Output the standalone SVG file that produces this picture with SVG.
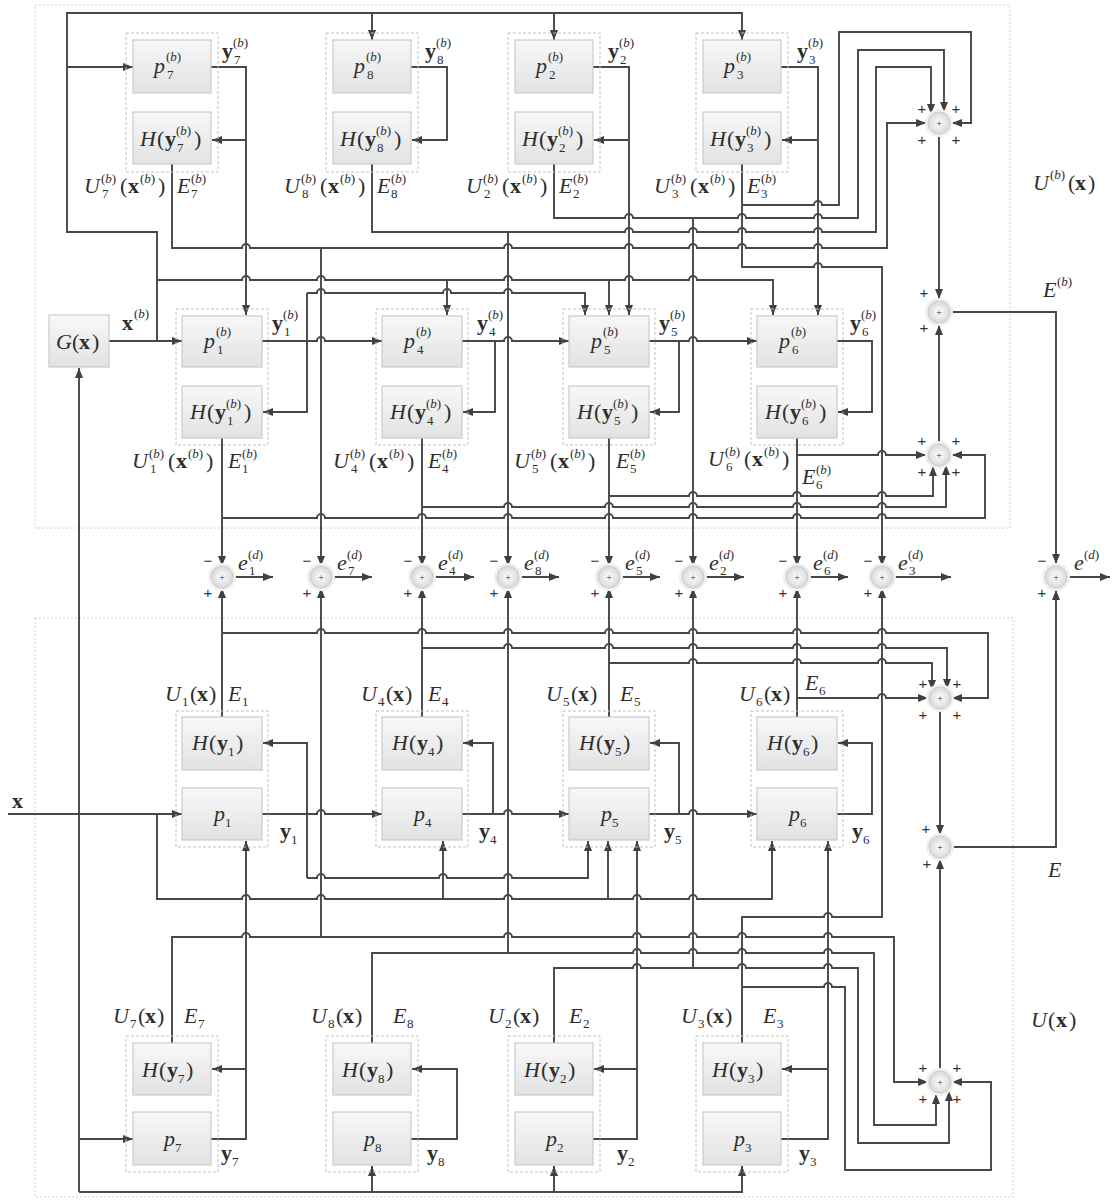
<svg xmlns="http://www.w3.org/2000/svg" width="1113" height="1204" viewBox="0 0 1113 1204">
<defs>
<marker id="ah" viewBox="0 0 10 8" refX="10" refY="4" markerWidth="11" markerHeight="8" markerUnits="userSpaceOnUse" orient="auto"><path d="M0,0 L10,4 L0,8 z" fill="#404040"/></marker>
<linearGradient id="bg" x1="0" y1="0" x2="0" y2="1"><stop offset="0" stop-color="#f8f8f8"/><stop offset="1" stop-color="#e2e2e2"/></linearGradient>
<radialGradient id="sg"><stop offset="0" stop-color="#ffffff"/><stop offset="1" stop-color="#d8d8d8"/></radialGradient>
<g id="sm"><circle r="14" fill="#f0f0f0"/><circle r="11" fill="url(#sg)" stroke="#cccccc" stroke-width="1"/><text y="3.5" font-size="10" text-anchor="middle" font-family="Liberation Sans,sans-serif" fill="#333">+</text></g>
</defs>
<style>
.ln{fill:none;stroke:#474747;stroke-width:1.9;marker-end:url(#ah)}
.box{fill:url(#bg);stroke:#cbcbcb;stroke-width:1.2}
.grp{fill:none;stroke:#c2c2c2;stroke-width:1;stroke-dasharray:3 2}
.frame{fill:none;stroke:#d2d2d2;stroke-width:1;stroke-dasharray:2 2}
text{font-family:"Liberation Serif","Times New Roman",serif;fill:#2e2e2e}
.m{font-size:22px}
.i{font-style:italic}
.b{font-weight:bold}
.s{font-size:13px}
.pm{font-size:15px;text-anchor:middle;font-family:"Liberation Sans",sans-serif;fill:#333}
</style>
<rect width="1113" height="1204" fill="#ffffff"/>
<rect class="frame" x="35" y="5" width="975" height="523"/>
<rect class="frame" x="35" y="618" width="978" height="579"/>

<g id="connectors">
<path class="ln" d="M109,341 H182"/>
<path class="ln" d="M157,341 V232 H67 V13 H742 V40"/>
<path class="ln" d="M372,13 V40"/>
<path class="ln" d="M554,13 V40"/>
<path class="ln" d="M67,67 H133"/>
<path class="ln" d="M157,280 H242 A4 4 0 0 1 250,280 H317 A4 4 0 0 1 325,280 H504 A4 4 0 0 1 512,280 H625 A4 4 0 0 1 633,280 H689 A4 4 0 0 1 697,280 H773 V315"/>
<path class="ln" d="M447,280 V315"/>
<path class="ln" d="M609,280 V315"/>
<path class="ln" d="M211,67 H246 V315"/>
<path class="ln" d="M246,140 H212"/>
<path class="ln" d="M411,67 H447 V140 H412"/>
<path class="ln" d="M593,67 H629 V315"/>
<path class="ln" d="M629,140 H594"/>
<path class="ln" d="M781,67 H818 V315"/>
<path class="ln" d="M818,140 H782"/>
<path class="ln" d="M262,341 H317 A4 4 0 0 1 325,341 H382"/>
<path class="ln" d="M307,293 V412 H263"/>
<path class="ln" d="M307,293 H317 A4 4 0 0 1 325,293 H443 A4 4 0 0 1 451,293 H504 A4 4 0 0 1 512,293 H585 V315"/>
<path class="ln" d="M462,341 H504 A4 4 0 0 1 512,341 H569"/>
<path class="ln" d="M495,341 V412 H463"/>
<path class="ln" d="M649,341 H689 A4 4 0 0 1 697,341 H757"/>
<path class="ln" d="M679,341 V412 H650"/>
<path class="ln" d="M837,341 H872 V412 H838"/>
<path class="ln" d="M172,164 V248 H242 A4 4 0 0 1 250,248 H504 A4 4 0 0 1 512,248 H625 A4 4 0 0 1 633,248 H689 A4 4 0 0 1 697,248 H738 A4 4 0 0 1 746,248 H814 A4 4 0 0 1 822,248 H887 V123 H926"/>
<path class="ln" d="M321,248 V566"/>
<path class="ln" d="M372,164 V232 H625 A4 4 0 0 1 633,232 H689 A4 4 0 0 1 697,232 H738 A4 4 0 0 1 746,232 H814 A4 4 0 0 1 822,232 H876 V67 H931 V114"/>
<path class="ln" d="M508,232 V566"/>
<path class="ln" d="M554,164 V218 H625 A4 4 0 0 1 633,218 H738 A4 4 0 0 1 746,218 H814 A4 4 0 0 1 822,218 H858 V50 H944 V112"/>
<path class="ln" d="M693,218 V566"/>
<path class="ln" d="M742,164 V267 H814 A4 4 0 0 1 822,267 H882 V566"/>
<path class="ln" d="M742,205 H814 A4 4 0 0 1 822,205 H839 V32 H971 V123 H952"/>
<path class="ln" d="M222,438 V566"/>
<path class="ln" d="M222,518 H317 A4 4 0 0 1 325,518 H418 A4 4 0 0 1 426,518 H504 A4 4 0 0 1 512,518 H605 A4 4 0 0 1 613,518 H689 A4 4 0 0 1 697,518 H793 A4 4 0 0 1 801,518 H878 A4 4 0 0 1 886,518 H985 V455 H952"/>
<path class="ln" d="M422,438 V566"/>
<path class="ln" d="M422,507 H504 A4 4 0 0 1 512,507 H605 A4 4 0 0 1 613,507 H689 A4 4 0 0 1 697,507 H793 A4 4 0 0 1 801,507 H878 A4 4 0 0 1 886,507 H946 V465"/>
<path class="ln" d="M609,438 V566"/>
<path class="ln" d="M609,496 H689 A4 4 0 0 1 697,496 H793 A4 4 0 0 1 801,496 H878 A4 4 0 0 1 886,496 H933 V466"/>
<path class="ln" d="M797,438 V566"/>
<path class="ln" d="M797,455 H878 A4 4 0 0 1 886,455 H926"/>
<path class="ln" d="M939,134 V299"/>
<path class="ln" d="M939,444 V325"/>
<path class="ln" d="M950,312 H1056 V564"/>
<path class="ln" d="M233,577 H273"/>
<path class="ln" d="M332,577 H372"/>
<path class="ln" d="M433,577 H474"/>
<path class="ln" d="M519,577 H559"/>
<path class="ln" d="M620,577 H660"/>
<path class="ln" d="M704,577 H744"/>
<path class="ln" d="M808,577 H848"/>
<path class="ln" d="M893,577 H951"/>
<path class="ln" d="M1067,577 H1110"/>
<path class="ln" d="M8,814 H182"/>
<path class="ln" d="M157,814 V899 H242 A4 4 0 0 1 250,899 H317 A4 4 0 0 1 325,899 H504 A4 4 0 0 1 512,899 H633 A4 4 0 0 1 641,899 H689 A4 4 0 0 1 697,899 H772 V841"/>
<path class="ln" d="M443,899 V841"/>
<path class="ln" d="M608,899 V841"/>
<path class="ln" d="M79,1192 V368"/>
<path class="ln" d="M79,1192 H742 V1166"/>
<path class="ln" d="M372,1192 V1166"/>
<path class="ln" d="M554,1192 V1166"/>
<path class="ln" d="M79,1139 H133"/>
<path class="ln" d="M262,814 H317 A4 4 0 0 1 325,814 H382"/>
<path class="ln" d="M307,878 V743 H263"/>
<path class="ln" d="M307,878 H317 A4 4 0 0 1 325,878 H439 A4 4 0 0 1 447,878 H504 A4 4 0 0 1 512,878 H588 V841"/>
<path class="ln" d="M462,814 H504 A4 4 0 0 1 512,814 H569"/>
<path class="ln" d="M493,814 V743 H463"/>
<path class="ln" d="M649,814 H689 A4 4 0 0 1 697,814 H757"/>
<path class="ln" d="M679,814 V743 H650"/>
<path class="ln" d="M837,814 H872 V743 H838"/>
<path class="ln" d="M211,1139 H246 V841"/>
<path class="ln" d="M246,1069 H212"/>
<path class="ln" d="M411,1139 H457 V1069 H412"/>
<path class="ln" d="M593,1139 H637 V841"/>
<path class="ln" d="M637,1069 H594"/>
<path class="ln" d="M781,1139 H828 V841"/>
<path class="ln" d="M828,1069 H782"/>
<path class="ln" d="M222,717 V588"/>
<path class="ln" d="M222,633 H317 A4 4 0 0 1 325,633 H418 A4 4 0 0 1 426,633 H504 A4 4 0 0 1 512,633 H605 A4 4 0 0 1 613,633 H689 A4 4 0 0 1 697,633 H793 A4 4 0 0 1 801,633 H878 A4 4 0 0 1 886,633 H988 V698 H952"/>
<path class="ln" d="M422,717 V588"/>
<path class="ln" d="M422,648 H504 A4 4 0 0 1 512,648 H605 A4 4 0 0 1 613,648 H689 A4 4 0 0 1 697,648 H793 A4 4 0 0 1 801,648 H878 A4 4 0 0 1 886,648 H947 V689"/>
<path class="ln" d="M609,717 V588"/>
<path class="ln" d="M609,663 H689 A4 4 0 0 1 697,663 H793 A4 4 0 0 1 801,663 H878 A4 4 0 0 1 886,663 H932 V690"/>
<path class="ln" d="M797,717 V588"/>
<path class="ln" d="M797,698 H878 A4 4 0 0 1 886,698 H928"/>
<path class="ln" d="M172,1043 V937 H242 A4 4 0 0 1 250,937 H504 A4 4 0 0 1 512,937 H633 A4 4 0 0 1 641,937 H689 A4 4 0 0 1 697,937 H738 A4 4 0 0 1 746,937 H824 A4 4 0 0 1 832,937 H894 V1082 H928"/>
<path class="ln" d="M321,937 V588"/>
<path class="ln" d="M372,1043 V953 H633 A4 4 0 0 1 641,953 H689 A4 4 0 0 1 697,953 H738 A4 4 0 0 1 746,953 H824 A4 4 0 0 1 832,953 H874 V1125 H936 V1094"/>
<path class="ln" d="M508,953 V588"/>
<path class="ln" d="M554,1043 V968 H633 A4 4 0 0 1 641,968 H738 A4 4 0 0 1 746,968 H824 A4 4 0 0 1 832,968 H858 V1143 H949 V1091"/>
<path class="ln" d="M693,968 V588"/>
<path class="ln" d="M742,1043 V917 H824 A4 4 0 0 1 832,917 H882 V588"/>
<path class="ln" d="M742,987 H824 A4 4 0 0 1 832,987 H845 V1170 H991 V1082 H952"/>
<path class="ln" d="M940,711 V835"/>
<path class="ln" d="M940,1069 V859"/>
<path class="ln" d="M951,847 H1056 V590"/>
</g>

<g id="G">
<rect class="box" x="49" y="315" width="60" height="52"/>
<text class="m"><tspan class="i" x="56" y="349">G</tspan><tspan x="72" y="349">(</tspan><tspan class="b" x="79" y="349">x</tspan><tspan x="92" y="349">)</tspan></text>
</g>

<!-- top row A -->
<g id="blk7b">
<rect class="grp" x="126" y="33" width="92" height="139"/>
<g id="p7b"><rect class="box" x="133" y="40" width="78" height="53"/>
<text class="m"><tspan class="i" x="154" y="73">p</tspan><tspan class="s" x="166" y="61">(<tspan class="i">b</tspan>)</tspan><tspan class="s" x="167" y="79">7</tspan></text></g>
<g id="H7b"><rect class="box" x="133" y="112" width="78" height="52"/>
<text class="m"><tspan class="i" x="140" y="146">H</tspan><tspan x="157" y="146">(</tspan><tspan class="b" x="165" y="146">y</tspan><tspan class="s" x="176" y="135">(<tspan class="i">b</tspan>)</tspan><tspan class="s" x="177" y="152">7</tspan><tspan x="194" y="146">)</tspan></text></g>
<text class="m"><tspan class="i" x="84" y="193">U</tspan><tspan class="s" x="101" y="183">(<tspan class="i">b</tspan>)</tspan><tspan class="s" x="102" y="198">7</tspan><tspan x="120" y="193">(</tspan><tspan class="b" x="128" y="193">x</tspan><tspan class="s" x="140" y="183">(<tspan class="i">b</tspan>)</tspan><tspan x="158" y="193">)</tspan></text>
<text class="m"><tspan class="i" x="177" y="193">E</tspan><tspan class="s" x="191" y="183">(<tspan class="i">b</tspan>)</tspan><tspan class="s" x="191" y="198">7</tspan></text>
</g>
<g id="blk8b">
<rect class="grp" x="326" y="33" width="92" height="139"/>
<g id="p8b"><rect class="box" x="333" y="40" width="78" height="53"/>
<text class="m"><tspan class="i" x="354" y="73">p</tspan><tspan class="s" x="366" y="61">(<tspan class="i">b</tspan>)</tspan><tspan class="s" x="367" y="79">8</tspan></text></g>
<g id="H8b"><rect class="box" x="333" y="112" width="78" height="52"/>
<text class="m"><tspan class="i" x="340" y="146">H</tspan><tspan x="357" y="146">(</tspan><tspan class="b" x="365" y="146">y</tspan><tspan class="s" x="376" y="135">(<tspan class="i">b</tspan>)</tspan><tspan class="s" x="377" y="152">8</tspan><tspan x="394" y="146">)</tspan></text></g>
<text class="m"><tspan class="i" x="284" y="193">U</tspan><tspan class="s" x="301" y="183">(<tspan class="i">b</tspan>)</tspan><tspan class="s" x="302" y="198">8</tspan><tspan x="320" y="193">(</tspan><tspan class="b" x="328" y="193">x</tspan><tspan class="s" x="340" y="183">(<tspan class="i">b</tspan>)</tspan><tspan x="358" y="193">)</tspan></text>
<text class="m"><tspan class="i" x="377" y="193">E</tspan><tspan class="s" x="391" y="183">(<tspan class="i">b</tspan>)</tspan><tspan class="s" x="391" y="198">8</tspan></text>
</g>
<g id="blk2b">
<rect class="grp" x="508" y="33" width="92" height="139"/>
<g id="p2b"><rect class="box" x="515" y="40" width="78" height="53"/>
<text class="m"><tspan class="i" x="536" y="73">p</tspan><tspan class="s" x="548" y="61">(<tspan class="i">b</tspan>)</tspan><tspan class="s" x="549" y="79">2</tspan></text></g>
<g id="H2b"><rect class="box" x="515" y="112" width="78" height="52"/>
<text class="m"><tspan class="i" x="522" y="146">H</tspan><tspan x="539" y="146">(</tspan><tspan class="b" x="547" y="146">y</tspan><tspan class="s" x="558" y="135">(<tspan class="i">b</tspan>)</tspan><tspan class="s" x="559" y="152">2</tspan><tspan x="576" y="146">)</tspan></text></g>
<text class="m"><tspan class="i" x="466" y="193">U</tspan><tspan class="s" x="483" y="183">(<tspan class="i">b</tspan>)</tspan><tspan class="s" x="484" y="198">2</tspan><tspan x="502" y="193">(</tspan><tspan class="b" x="510" y="193">x</tspan><tspan class="s" x="522" y="183">(<tspan class="i">b</tspan>)</tspan><tspan x="540" y="193">)</tspan></text>
<text class="m"><tspan class="i" x="559" y="193">E</tspan><tspan class="s" x="573" y="183">(<tspan class="i">b</tspan>)</tspan><tspan class="s" x="573" y="198">2</tspan></text>
</g>
<g id="blk3b">
<rect class="grp" x="696" y="33" width="92" height="139"/>
<g id="p3b"><rect class="box" x="703" y="40" width="78" height="53"/>
<text class="m"><tspan class="i" x="724" y="73">p</tspan><tspan class="s" x="736" y="61">(<tspan class="i">b</tspan>)</tspan><tspan class="s" x="737" y="79">3</tspan></text></g>
<g id="H3b"><rect class="box" x="703" y="112" width="78" height="52"/>
<text class="m"><tspan class="i" x="710" y="146">H</tspan><tspan x="727" y="146">(</tspan><tspan class="b" x="735" y="146">y</tspan><tspan class="s" x="746" y="135">(<tspan class="i">b</tspan>)</tspan><tspan class="s" x="747" y="152">3</tspan><tspan x="764" y="146">)</tspan></text></g>
<text class="m"><tspan class="i" x="654" y="193">U</tspan><tspan class="s" x="671" y="183">(<tspan class="i">b</tspan>)</tspan><tspan class="s" x="672" y="198">3</tspan><tspan x="690" y="193">(</tspan><tspan class="b" x="698" y="193">x</tspan><tspan class="s" x="710" y="183">(<tspan class="i">b</tspan>)</tspan><tspan x="728" y="193">)</tspan></text>
<text class="m"><tspan class="i" x="747" y="193">E</tspan><tspan class="s" x="761" y="183">(<tspan class="i">b</tspan>)</tspan><tspan class="s" x="761" y="198">3</tspan></text>
</g>

<!-- row B -->
<g id="blk1b">
<rect class="grp" x="176" y="309" width="92" height="136"/>
<g id="p1b"><rect class="box" x="182" y="316" width="80" height="51"/>
<text class="m"><tspan class="i" x="204" y="348">p</tspan><tspan class="s" x="216" y="336">(<tspan class="i">b</tspan>)</tspan><tspan class="s" x="217" y="354">1</tspan></text></g>
<g id="H1b"><rect class="box" x="182" y="386" width="80" height="52"/>
<text class="m"><tspan class="i" x="190" y="419">H</tspan><tspan x="207" y="419">(</tspan><tspan class="b" x="215" y="419">y</tspan><tspan class="s" x="226" y="408">(<tspan class="i">b</tspan>)</tspan><tspan class="s" x="227" y="425">1</tspan><tspan x="244" y="419">)</tspan></text></g>
<text class="m"><tspan class="i" x="132" y="468">U</tspan><tspan class="s" x="149" y="458">(<tspan class="i">b</tspan>)</tspan><tspan class="s" x="150" y="473">1</tspan><tspan x="168" y="468">(</tspan><tspan class="b" x="176" y="468">x</tspan><tspan class="s" x="188" y="458">(<tspan class="i">b</tspan>)</tspan><tspan x="206" y="468">)</tspan></text>
<text class="m"><tspan class="i" x="228" y="468">E</tspan><tspan class="s" x="242" y="458">(<tspan class="i">b</tspan>)</tspan><tspan class="s" x="242" y="473">1</tspan></text>
</g>
<g id="blk4b">
<rect class="grp" x="376" y="309" width="92" height="136"/>
<g id="p4b"><rect class="box" x="382" y="316" width="80" height="51"/>
<text class="m"><tspan class="i" x="404" y="348">p</tspan><tspan class="s" x="416" y="336">(<tspan class="i">b</tspan>)</tspan><tspan class="s" x="417" y="354">4</tspan></text></g>
<g id="H4b"><rect class="box" x="382" y="386" width="80" height="52"/>
<text class="m"><tspan class="i" x="390" y="419">H</tspan><tspan x="407" y="419">(</tspan><tspan class="b" x="415" y="419">y</tspan><tspan class="s" x="426" y="408">(<tspan class="i">b</tspan>)</tspan><tspan class="s" x="427" y="425">4</tspan><tspan x="444" y="419">)</tspan></text></g>
<text class="m"><tspan class="i" x="333" y="468">U</tspan><tspan class="s" x="350" y="458">(<tspan class="i">b</tspan>)</tspan><tspan class="s" x="351" y="473">4</tspan><tspan x="369" y="468">(</tspan><tspan class="b" x="377" y="468">x</tspan><tspan class="s" x="389" y="458">(<tspan class="i">b</tspan>)</tspan><tspan x="407" y="468">)</tspan></text>
<text class="m"><tspan class="i" x="428" y="468">E</tspan><tspan class="s" x="442" y="458">(<tspan class="i">b</tspan>)</tspan><tspan class="s" x="442" y="473">4</tspan></text>
</g>
<g id="blk5b">
<rect class="grp" x="563" y="309" width="92" height="136"/>
<g id="p5b"><rect class="box" x="569" y="316" width="80" height="51"/>
<text class="m"><tspan class="i" x="591" y="348">p</tspan><tspan class="s" x="603" y="336">(<tspan class="i">b</tspan>)</tspan><tspan class="s" x="604" y="354">5</tspan></text></g>
<g id="H5b"><rect class="box" x="569" y="386" width="80" height="52"/>
<text class="m"><tspan class="i" x="577" y="419">H</tspan><tspan x="594" y="419">(</tspan><tspan class="b" x="602" y="419">y</tspan><tspan class="s" x="613" y="408">(<tspan class="i">b</tspan>)</tspan><tspan class="s" x="614" y="425">5</tspan><tspan x="631" y="419">)</tspan></text></g>
<text class="m"><tspan class="i" x="514" y="468">U</tspan><tspan class="s" x="531" y="458">(<tspan class="i">b</tspan>)</tspan><tspan class="s" x="532" y="473">5</tspan><tspan x="550" y="468">(</tspan><tspan class="b" x="558" y="468">x</tspan><tspan class="s" x="570" y="458">(<tspan class="i">b</tspan>)</tspan><tspan x="588" y="468">)</tspan></text>
<text class="m"><tspan class="i" x="616" y="468">E</tspan><tspan class="s" x="630" y="458">(<tspan class="i">b</tspan>)</tspan><tspan class="s" x="630" y="473">5</tspan></text>
</g>
<g id="blk6b">
<rect class="grp" x="751" y="309" width="92" height="136"/>
<g id="p6b"><rect class="box" x="757" y="316" width="80" height="51"/>
<text class="m"><tspan class="i" x="779" y="348">p</tspan><tspan class="s" x="791" y="336">(<tspan class="i">b</tspan>)</tspan><tspan class="s" x="792" y="354">6</tspan></text></g>
<g id="H6b"><rect class="box" x="757" y="386" width="80" height="52"/>
<text class="m"><tspan class="i" x="765" y="419">H</tspan><tspan x="782" y="419">(</tspan><tspan class="b" x="790" y="419">y</tspan><tspan class="s" x="801" y="408">(<tspan class="i">b</tspan>)</tspan><tspan class="s" x="802" y="425">6</tspan><tspan x="819" y="419">)</tspan></text></g>
<text class="m"><tspan class="i" x="708" y="466">U</tspan><tspan class="s" x="725" y="456">(<tspan class="i">b</tspan>)</tspan><tspan class="s" x="726" y="471">6</tspan><tspan x="744" y="466">(</tspan><tspan class="b" x="752" y="466">x</tspan><tspan class="s" x="764" y="456">(<tspan class="i">b</tspan>)</tspan><tspan x="782" y="466">)</tspan></text>
<text class="m"><tspan class="i" x="802" y="484">E</tspan><tspan class="s" x="816" y="474">(<tspan class="i">b</tspan>)</tspan><tspan class="s" x="816" y="489">6</tspan></text>
</g>

<!-- row C -->
<g id="blk1">
<rect class="grp" x="176" y="711" width="92" height="136"/>
<g id="H1"><rect class="box" x="182" y="717" width="80" height="53"/>
<text class="m"><tspan class="i" x="192" y="750">H</tspan><tspan x="209" y="750">(</tspan><tspan class="b" x="217" y="750">y</tspan><tspan class="s" x="228" y="756">1</tspan><tspan x="236" y="750">)</tspan></text></g>
<g id="p1"><rect class="box" x="182" y="788" width="80" height="52"/>
<text class="m"><tspan class="i" x="214" y="821">p</tspan><tspan class="s" x="225" y="827">1</tspan></text></g>
<text class="m"><tspan class="i" x="165" y="701">U</tspan><tspan class="s" x="182" y="706">1</tspan><tspan x="190" y="701">(</tspan><tspan class="b" x="197" y="701">x</tspan><tspan x="209" y="701">)</tspan></text>
<text class="m"><tspan class="i" x="228" y="701">E</tspan><tspan class="s" x="242" y="706">1</tspan></text>
</g>
<g id="blk4">
<rect class="grp" x="376" y="711" width="92" height="136"/>
<g id="H4"><rect class="box" x="382" y="717" width="80" height="53"/>
<text class="m"><tspan class="i" x="392" y="750">H</tspan><tspan x="409" y="750">(</tspan><tspan class="b" x="417" y="750">y</tspan><tspan class="s" x="428" y="756">4</tspan><tspan x="436" y="750">)</tspan></text></g>
<g id="p4"><rect class="box" x="382" y="788" width="80" height="52"/>
<text class="m"><tspan class="i" x="414" y="821">p</tspan><tspan class="s" x="425" y="827">4</tspan></text></g>
<text class="m"><tspan class="i" x="361" y="701">U</tspan><tspan class="s" x="378" y="706">4</tspan><tspan x="386" y="701">(</tspan><tspan class="b" x="393" y="701">x</tspan><tspan x="405" y="701">)</tspan></text>
<text class="m"><tspan class="i" x="428" y="701">E</tspan><tspan class="s" x="442" y="706">4</tspan></text>
</g>
<g id="blk5">
<rect class="grp" x="563" y="711" width="92" height="136"/>
<g id="H5"><rect class="box" x="569" y="717" width="80" height="53"/>
<text class="m"><tspan class="i" x="579" y="750">H</tspan><tspan x="596" y="750">(</tspan><tspan class="b" x="604" y="750">y</tspan><tspan class="s" x="615" y="756">5</tspan><tspan x="623" y="750">)</tspan></text></g>
<g id="p5"><rect class="box" x="569" y="788" width="80" height="52"/>
<text class="m"><tspan class="i" x="601" y="821">p</tspan><tspan class="s" x="612" y="827">5</tspan></text></g>
<text class="m"><tspan class="i" x="546" y="701">U</tspan><tspan class="s" x="563" y="706">5</tspan><tspan x="571" y="701">(</tspan><tspan class="b" x="578" y="701">x</tspan><tspan x="590" y="701">)</tspan></text>
<text class="m"><tspan class="i" x="620" y="701">E</tspan><tspan class="s" x="634" y="706">5</tspan></text>
</g>
<g id="blk6">
<rect class="grp" x="751" y="711" width="92" height="136"/>
<g id="H6"><rect class="box" x="757" y="717" width="80" height="53"/>
<text class="m"><tspan class="i" x="767" y="750">H</tspan><tspan x="784" y="750">(</tspan><tspan class="b" x="792" y="750">y</tspan><tspan class="s" x="803" y="756">6</tspan><tspan x="811" y="750">)</tspan></text></g>
<g id="p6"><rect class="box" x="757" y="788" width="80" height="52"/>
<text class="m"><tspan class="i" x="789" y="821">p</tspan><tspan class="s" x="800" y="827">6</tspan></text></g>
<text class="m"><tspan class="i" x="739" y="701">U</tspan><tspan class="s" x="756" y="706">6</tspan><tspan x="764" y="701">(</tspan><tspan class="b" x="771" y="701">x</tspan><tspan x="783" y="701">)</tspan></text>
<text class="m"><tspan class="i" x="805" y="690">E</tspan><tspan class="s" x="819" y="695">6</tspan></text>
</g>

<!-- row D -->
<g id="blk7">
<rect class="grp" x="126" y="1036" width="92" height="136"/>
<g id="H7"><rect class="box" x="133" y="1043" width="78" height="52"/>
<text class="m"><tspan class="i" x="142" y="1077">H</tspan><tspan x="159" y="1077">(</tspan><tspan class="b" x="167" y="1077">y</tspan><tspan class="s" x="178" y="1083">7</tspan><tspan x="186" y="1077">)</tspan></text></g>
<g id="p7"><rect class="box" x="133" y="1112" width="78" height="53"/>
<text class="m"><tspan class="i" x="164" y="1146">p</tspan><tspan class="s" x="175" y="1152">7</tspan></text></g>
<text class="m"><tspan class="i" x="113" y="1023">U</tspan><tspan class="s" x="130" y="1028">7</tspan><tspan x="138" y="1023">(</tspan><tspan class="b" x="145" y="1023">x</tspan><tspan x="157" y="1023">)</tspan></text>
<text class="m"><tspan class="i" x="184" y="1023">E</tspan><tspan class="s" x="198" y="1028">7</tspan></text>
</g>
<g id="blk8">
<rect class="grp" x="326" y="1036" width="92" height="136"/>
<g id="H8"><rect class="box" x="333" y="1043" width="78" height="52"/>
<text class="m"><tspan class="i" x="342" y="1077">H</tspan><tspan x="359" y="1077">(</tspan><tspan class="b" x="367" y="1077">y</tspan><tspan class="s" x="378" y="1083">8</tspan><tspan x="386" y="1077">)</tspan></text></g>
<g id="p8"><rect class="box" x="333" y="1112" width="78" height="53"/>
<text class="m"><tspan class="i" x="364" y="1146">p</tspan><tspan class="s" x="375" y="1152">8</tspan></text></g>
<text class="m"><tspan class="i" x="311" y="1023">U</tspan><tspan class="s" x="328" y="1028">8</tspan><tspan x="336" y="1023">(</tspan><tspan class="b" x="343" y="1023">x</tspan><tspan x="355" y="1023">)</tspan></text>
<text class="m"><tspan class="i" x="393" y="1023">E</tspan><tspan class="s" x="407" y="1028">8</tspan></text>
</g>
<g id="blk2">
<rect class="grp" x="508" y="1036" width="92" height="136"/>
<g id="H2"><rect class="box" x="515" y="1043" width="78" height="52"/>
<text class="m"><tspan class="i" x="524" y="1077">H</tspan><tspan x="541" y="1077">(</tspan><tspan class="b" x="549" y="1077">y</tspan><tspan class="s" x="560" y="1083">2</tspan><tspan x="568" y="1077">)</tspan></text></g>
<g id="p2"><rect class="box" x="515" y="1112" width="78" height="53"/>
<text class="m"><tspan class="i" x="546" y="1146">p</tspan><tspan class="s" x="557" y="1152">2</tspan></text></g>
<text class="m"><tspan class="i" x="488" y="1023">U</tspan><tspan class="s" x="505" y="1028">2</tspan><tspan x="513" y="1023">(</tspan><tspan class="b" x="520" y="1023">x</tspan><tspan x="532" y="1023">)</tspan></text>
<text class="m"><tspan class="i" x="569" y="1023">E</tspan><tspan class="s" x="583" y="1028">2</tspan></text>
</g>
<g id="blk3">
<rect class="grp" x="696" y="1036" width="92" height="136"/>
<g id="H3"><rect class="box" x="703" y="1043" width="78" height="52"/>
<text class="m"><tspan class="i" x="712" y="1077">H</tspan><tspan x="729" y="1077">(</tspan><tspan class="b" x="737" y="1077">y</tspan><tspan class="s" x="748" y="1083">3</tspan><tspan x="756" y="1077">)</tspan></text></g>
<g id="p3"><rect class="box" x="703" y="1112" width="78" height="53"/>
<text class="m"><tspan class="i" x="734" y="1146">p</tspan><tspan class="s" x="745" y="1152">3</tspan></text></g>
<text class="m"><tspan class="i" x="681" y="1023">U</tspan><tspan class="s" x="698" y="1028">3</tspan><tspan x="706" y="1023">(</tspan><tspan class="b" x="713" y="1023">x</tspan><tspan x="725" y="1023">)</tspan></text>
<text class="m"><tspan class="i" x="763" y="1023">E</tspan><tspan class="s" x="777" y="1028">3</tspan></text>
</g>

<!-- signal labels -->
<g id="signal-labels">
<text class="m"><tspan class="b" x="122" y="330">x</tspan><tspan class="s" x="134" y="318">(<tspan class="i">b</tspan>)</tspan></text>
<text class="m"><tspan class="b" x="12" y="808">x</tspan></text>
<text class="m"><tspan class="b" x="222" y="58">y</tspan><tspan class="s" x="233" y="47">(<tspan class="i">b</tspan>)</tspan><tspan class="s" x="234" y="64">7</tspan></text>
<text class="m"><tspan class="b" x="425" y="58">y</tspan><tspan class="s" x="436" y="47">(<tspan class="i">b</tspan>)</tspan><tspan class="s" x="437" y="64">8</tspan></text>
<text class="m"><tspan class="b" x="608" y="58">y</tspan><tspan class="s" x="619" y="47">(<tspan class="i">b</tspan>)</tspan><tspan class="s" x="620" y="64">2</tspan></text>
<text class="m"><tspan class="b" x="797" y="58">y</tspan><tspan class="s" x="808" y="47">(<tspan class="i">b</tspan>)</tspan><tspan class="s" x="809" y="64">3</tspan></text>
<text class="m"><tspan class="b" x="272" y="330">y</tspan><tspan class="s" x="283" y="319">(<tspan class="i">b</tspan>)</tspan><tspan class="s" x="284" y="336">1</tspan></text>
<text class="m"><tspan class="b" x="477" y="330">y</tspan><tspan class="s" x="488" y="319">(<tspan class="i">b</tspan>)</tspan><tspan class="s" x="489" y="336">4</tspan></text>
<text class="m"><tspan class="b" x="659" y="330">y</tspan><tspan class="s" x="670" y="319">(<tspan class="i">b</tspan>)</tspan><tspan class="s" x="671" y="336">5</tspan></text>
<text class="m"><tspan class="b" x="850" y="330">y</tspan><tspan class="s" x="861" y="319">(<tspan class="i">b</tspan>)</tspan><tspan class="s" x="862" y="336">6</tspan></text>
<text class="m"><tspan class="b" x="280" y="838">y</tspan><tspan class="s" x="291" y="844">1</tspan></text>
<text class="m"><tspan class="b" x="479" y="838">y</tspan><tspan class="s" x="490" y="844">4</tspan></text>
<text class="m"><tspan class="b" x="664" y="838">y</tspan><tspan class="s" x="675" y="844">5</tspan></text>
<text class="m"><tspan class="b" x="852" y="838">y</tspan><tspan class="s" x="863" y="844">6</tspan></text>
<text class="m"><tspan class="b" x="221" y="1160">y</tspan><tspan class="s" x="232" y="1166">7</tspan></text>
<text class="m"><tspan class="b" x="427" y="1160">y</tspan><tspan class="s" x="438" y="1166">8</tspan></text>
<text class="m"><tspan class="b" x="617" y="1160">y</tspan><tspan class="s" x="628" y="1166">2</tspan></text>
<text class="m"><tspan class="b" x="799" y="1160">y</tspan><tspan class="s" x="810" y="1166">3</tspan></text>
<text class="m"><tspan class="i" x="1033" y="190">U</tspan><tspan class="s" x="1050" y="179">(<tspan class="i">b</tspan>)</tspan><tspan x="1068" y="190">(</tspan><tspan class="b" x="1075" y="190">x</tspan><tspan x="1088" y="190">)</tspan></text>
<text class="m"><tspan class="i" x="1043" y="297">E</tspan><tspan class="s" x="1057" y="286">(<tspan class="i">b</tspan>)</tspan></text>
<text class="m"><tspan class="i" x="1048" y="877">E</tspan></text>
<text class="m"><tspan class="i" x="1031" y="1027">U</tspan><tspan x="1048" y="1027">(</tspan><tspan class="b" x="1056" y="1027">x</tspan><tspan x="1069" y="1027">)</tspan></text>
</g>

<!-- summing junctions -->
<g id="sumTop"><use href="#sm" x="939" y="123"/><text class="pm" x="922" y="114">+</text><text class="pm" x="956" y="114">+</text><text class="pm" x="922" y="145">+</text><text class="pm" x="956" y="145">+</text></g>
<g id="sumEb"><use href="#sm" x="939" y="312"/><text class="pm" x="924" y="298">+</text><text class="pm" x="924" y="333">+</text></g>
<g id="sumLow"><use href="#sm" x="939" y="455"/><text class="pm" x="922" y="446">+</text><text class="pm" x="956" y="446">+</text><text class="pm" x="922" y="477">+</text><text class="pm" x="956" y="477">+</text></g>
<g id="sumUp"><use href="#sm" x="940" y="698"/><text class="pm" x="923" y="689">+</text><text class="pm" x="957" y="689">+</text><text class="pm" x="923" y="720">+</text><text class="pm" x="957" y="720">+</text></g>
<g id="sumE"><use href="#sm" x="940" y="847"/><text class="pm" x="926" y="834">+</text><text class="pm" x="927" y="869">+</text></g>
<g id="sumBot"><use href="#sm" x="940" y="1082"/><text class="pm" x="923" y="1073">+</text><text class="pm" x="957" y="1073">+</text><text class="pm" x="923" y="1104">+</text><text class="pm" x="957" y="1104">+</text></g>

<g id="e1s"><use href="#sm" x="222" y="577"/><text class="pm" x="208" y="566">−</text><text class="pm" x="208" y="598">+</text>
<text class="m"><tspan class="i" x="238" y="570">e</tspan><tspan class="s" x="248" y="559">(<tspan class="i">d</tspan>)</tspan><tspan class="s" x="249" y="575">1</tspan></text></g>
<g id="e7s"><use href="#sm" x="321" y="577"/><text class="pm" x="307" y="566">−</text><text class="pm" x="307" y="598">+</text>
<text class="m"><tspan class="i" x="337" y="570">e</tspan><tspan class="s" x="347" y="559">(<tspan class="i">d</tspan>)</tspan><tspan class="s" x="348" y="575">7</tspan></text></g>
<g id="e4s"><use href="#sm" x="422" y="577"/><text class="pm" x="408" y="566">−</text><text class="pm" x="408" y="598">+</text>
<text class="m"><tspan class="i" x="438" y="570">e</tspan><tspan class="s" x="448" y="559">(<tspan class="i">d</tspan>)</tspan><tspan class="s" x="449" y="575">4</tspan></text></g>
<g id="e8s"><use href="#sm" x="508" y="577"/><text class="pm" x="494" y="566">−</text><text class="pm" x="494" y="598">+</text>
<text class="m"><tspan class="i" x="524" y="570">e</tspan><tspan class="s" x="534" y="559">(<tspan class="i">d</tspan>)</tspan><tspan class="s" x="535" y="575">8</tspan></text></g>
<g id="e5s"><use href="#sm" x="609" y="577"/><text class="pm" x="595" y="566">−</text><text class="pm" x="595" y="598">+</text>
<text class="m"><tspan class="i" x="625" y="570">e</tspan><tspan class="s" x="635" y="559">(<tspan class="i">d</tspan>)</tspan><tspan class="s" x="636" y="575">5</tspan></text></g>
<g id="e2s"><use href="#sm" x="693" y="577"/><text class="pm" x="679" y="566">−</text><text class="pm" x="679" y="598">+</text>
<text class="m"><tspan class="i" x="709" y="570">e</tspan><tspan class="s" x="719" y="559">(<tspan class="i">d</tspan>)</tspan><tspan class="s" x="720" y="575">2</tspan></text></g>
<g id="e6s"><use href="#sm" x="797" y="577"/><text class="pm" x="783" y="566">−</text><text class="pm" x="783" y="598">+</text>
<text class="m"><tspan class="i" x="813" y="570">e</tspan><tspan class="s" x="823" y="559">(<tspan class="i">d</tspan>)</tspan><tspan class="s" x="824" y="575">6</tspan></text></g>
<g id="e3s"><use href="#sm" x="882" y="577"/><text class="pm" x="868" y="566">−</text><text class="pm" x="868" y="598">+</text>
<text class="m"><tspan class="i" x="898" y="570">e</tspan><tspan class="s" x="908" y="559">(<tspan class="i">d</tspan>)</tspan><tspan class="s" x="909" y="575">3</tspan></text></g>
<g id="es"><use href="#sm" x="1056" y="577"/><text class="pm" x="1042" y="566">−</text><text class="pm" x="1042" y="598">+</text>
<text class="m"><tspan class="i" x="1074" y="570">e</tspan><tspan class="s" x="1084" y="559">(<tspan class="i">d</tspan>)</tspan></text></g>
</svg>
